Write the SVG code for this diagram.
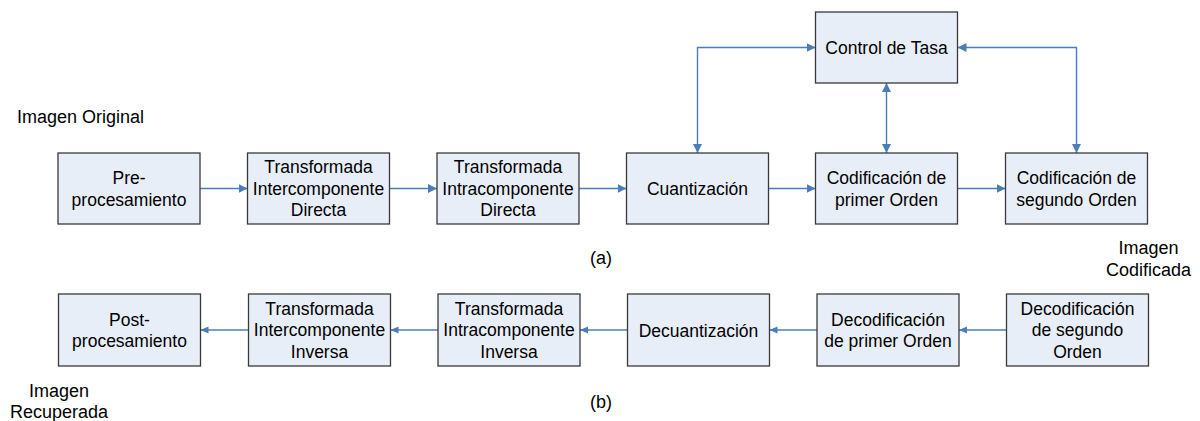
<svg xmlns="http://www.w3.org/2000/svg" width="1200" height="421" viewBox="0 0 1200 421">
<defs>
<marker id="ah" markerUnits="userSpaceOnUse" markerWidth="10" markerHeight="10" refX="9" refY="4.5" orient="auto-start-reverse">
<path d="M0,0 L9,4.5 L0,9 z" fill="#4A7EBB"/>
</marker>
<marker id="ahs" markerUnits="userSpaceOnUse" markerWidth="10" markerHeight="8" refX="8" refY="3.5" orient="auto-start-reverse">
<path d="M0,0 L8,3.5 L0,7 z" fill="#4A7EBB"/>
</marker>
<style>
rect.b{fill:#E8EEF7;stroke:#3a3a3a;stroke-width:1.3}
text{font-family:"Liberation Sans",Arial,sans-serif;font-size:18px;fill:#000}
.c{text-anchor:middle}
.t{font-size:17.5px}
.ln{fill:none;stroke:#4A7EBB;stroke-width:1.4}
</style>
</defs>
<rect width="1200" height="421" fill="#fff"/>
<g id="connectors">
<path class="ln" d="M200 188.5 H247.5" marker-end="url(#ah)"/>
<path class="ln" d="M389.5 188.5 H437" marker-end="url(#ah)"/>
<path class="ln" d="M579 188.5 H626.5" marker-end="url(#ah)"/>
<path class="ln" d="M768.5 188.5 H815.5" marker-end="url(#ah)"/>
<path class="ln" d="M957.5 188.5 H1005.5" marker-end="url(#ah)"/>
<path class="ln" d="M697.5 153 V47.5 H815.5" marker-start="url(#ah)" marker-end="url(#ah)"/>
<path class="ln" d="M886.5 83 V153" marker-start="url(#ah)" marker-end="url(#ah)"/>
<path class="ln" d="M957.5 47.5 H1076.5 V153" marker-start="url(#ah)" marker-end="url(#ah)"/>
<path class="ln" d="M1006.5 330 H959" marker-end="url(#ahs)"/>
<path class="ln" d="M817 330 H769.5" marker-end="url(#ahs)"/>
<path class="ln" d="M627.5 330 H580" marker-end="url(#ahs)"/>
<path class="ln" d="M438 330 H390.5" marker-end="url(#ahs)"/>
<path class="ln" d="M248.5 330 H200.5" marker-end="url(#ahs)"/>
</g>
<g id="n_pre" class="t"><rect class="b" x="58" y="153" width="142" height="71"/><text class="c t" x="129" y="184">Pre-</text><text class="c t" x="129" y="205.5">procesamiento</text></g>
<g id="n_tic"><rect class="b" x="247.5" y="153" width="142" height="71"/><text class="c t" x="318.5" y="173.3">Transformada</text><text class="c t" x="318.5" y="194.8">Intercomponente</text><text class="c t" x="318.5" y="216.3">Directa</text></g>
<g id="n_tia"><rect class="b" x="437" y="153" width="142" height="71"/><text class="c t" x="508" y="173.3">Transformada</text><text class="c t" x="508" y="194.8">Intracomponente</text><text class="c t" x="508" y="216.3">Directa</text></g>
<g id="n_cuant"><rect class="b" x="626.5" y="153" width="142" height="71"/><text class="c t" x="697.5" y="195">Cuantización</text></g>
<g id="n_cod1"><rect class="b" x="815.5" y="153" width="142" height="71"/><text class="c t" x="886.5" y="184">Codificación de</text><text class="c t" x="886.5" y="205.5">primer Orden</text></g>
<g id="n_cod2"><rect class="b" x="1005.5" y="153" width="142" height="71"/><text class="c t" x="1076.5" y="184">Codificación de</text><text class="c t" x="1076.5" y="205.5">segundo Orden</text></g>
<g id="n_ctrl"><rect class="b" x="815.5" y="12" width="142" height="71"/><text class="c t" x="886.5" y="54">Control de Tasa</text></g>
<g id="n_post"><rect class="b" x="58.5" y="294" width="142" height="72"/><text class="c t" x="129.5" y="325.5">Post-</text><text class="c t" x="129.5" y="347">procesamiento</text></g>
<g id="n_tici"><rect class="b" x="248.5" y="294" width="142" height="72"/><text class="c t" x="319.5" y="314.8">Transformada</text><text class="c t" x="319.5" y="336.3">Intercomponente</text><text class="c t" x="319.5" y="357.8">Inversa</text></g>
<g id="n_tiai"><rect class="b" x="438" y="294" width="142" height="72"/><text class="c t" x="509" y="314.8">Transformada</text><text class="c t" x="509" y="336.3">Intracomponente</text><text class="c t" x="509" y="357.8">Inversa</text></g>
<g id="n_decuant"><rect class="b" x="627.5" y="294" width="142" height="72"/><text class="c t" x="698.5" y="336.5">Decuantización</text></g>
<g id="n_dec1"><rect class="b" x="817" y="294" width="142" height="72"/><text class="c t" x="888" y="325.5">Decodificación</text><text class="c t" x="888" y="347">de primer Orden</text></g>
<g id="n_dec2"><rect class="b" x="1006.5" y="294" width="142" height="72"/><text class="c t" x="1077.5" y="314.8">Decodificación</text><text class="c t" x="1077.5" y="336.3">de segundo</text><text class="c t" x="1077.5" y="357.8">Orden</text></g>
<g id="labels">
<text x="17" y="123">Imagen Original</text>
<text class="c" x="601" y="264">(a)</text>
<text class="c" x="601" y="408">(b)</text>
<text class="c" x="1148.5" y="254">Imagen</text>
<text class="c" x="1148.5" y="276">Codificada</text>
<text class="c" x="59" y="397">Imagen</text>
<text class="c" x="59" y="418">Recuperada</text>
</g>
</svg>
